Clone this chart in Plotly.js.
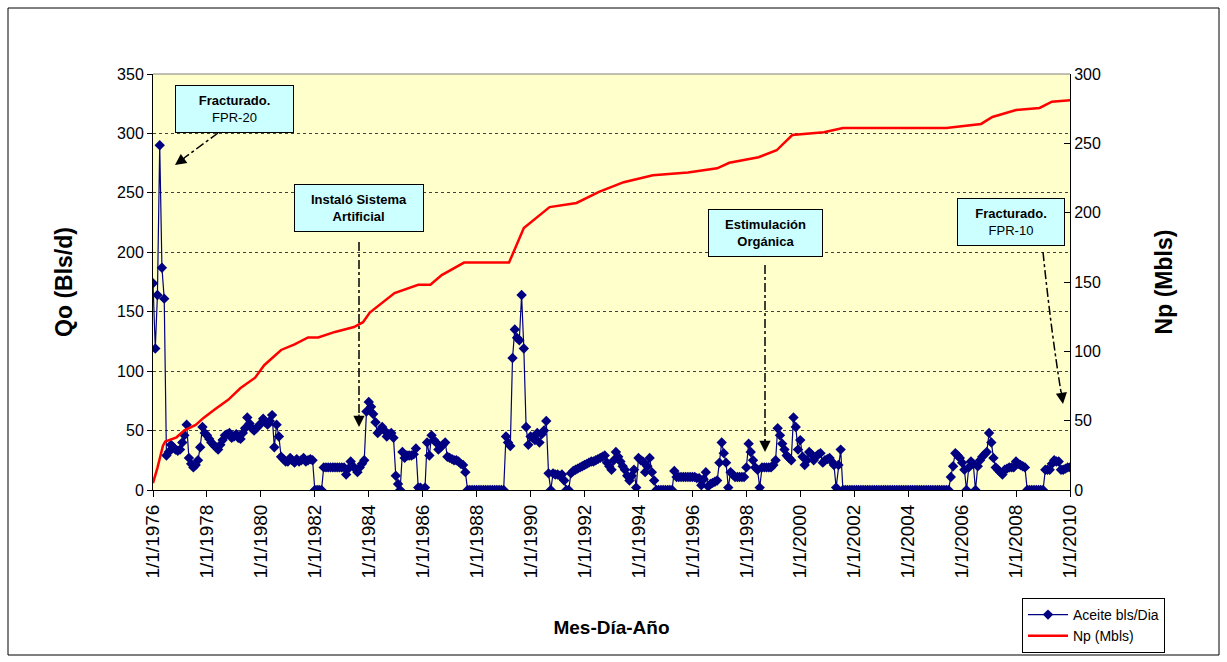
<!DOCTYPE html>
<html>
<head>
<meta charset="utf-8">
<script src="https://cdn.plot.ly/plotly-3.0.1.min.js"></script>
<style>html,body{margin:0;padding:0;background:#fff;}#chart{width:1227px;height:662px;}</style>
</head>
<body>
<div id="chart"></div>
<script>
// ---- Data ----
const oilStartYear = 1976;               // monthly series starts Jan 1976
const oilRate = [                         // Aceite bls/Dia, monthly
  174,119,164,290,187,161,29,32,38,36,34,33,        // 1976
  34,40,46,55,27,22,19,21,25,36,53,48,              // 1977
  46,43,40,38,36,34,38,42,46,47,48,44,              // 1978
  45,47,44,43,48,52,61,56,52,50,52,54,              // 1979
  56,60,57,55,58,63,36,55,45,28,26,24,              // 1980
  24,27,25,23,26,24,25,27,24,25,26,25,              // 1981
  0,0,0,0,19,19,19,19,19,19,19,19,                  // 1982
  19,19,13,18,24,20,18,15,19,22,25,66,              // 1983
  74,70,64,57,48,50,53,50,45,47,48,44,              // 1984
  12,5,0,32,27,29,29,29,30,35,2,2,                  // 1985
  0,2,40,29,46,42,40,34,36,38,40,28,                // 1986
  27,26,25,25,24,22,21,15,0,0,0,0,                  // 1987
  0,0,0,0,0,0,0,0,0,0,0,0,                          // 1988
  0,45,40,37,111,135,128,126,164,119,53,38,         // 1989
  45,44,42,48,40,47,50,58,14,0,14,13,               // 1990
  13,12,13,8,0,0,14,16,17,18,19,20,                 // 1991
  21,22,23,24,24,25,26,27,28,29,23,20,              // 1992
  17,25,32,28,24,20,17,12,8,12,17,2,                // 1993
  27,25,24,15,20,27,15,8,0,0,0,0,                   // 1994
  0,0,0,0,16,11,11,11,11,11,11,11,                  // 1995
  11,11,10,10,4,9,15,3,5,6,7,8,                     // 1996
  23,40,31,23,2,15,13,11,11,11,11,11,               // 1997
  19,39,32,25,19,17,2,19,19,19,19,19,               // 1998
  21,25,52,46,39,34,29,27,25,61,53,34,              // 1999
  42,28,21,25,32,30,25,28,30,31,23,25,              // 2000
  26,27,24,21,2,21,34,0,0,0,0,0,                    // 2001
  0,0,0,0,0,0,0,0,0,0,0,0,                          // 2002
  0,0,0,0,0,0,0,0,0,0,0,0,                          // 2003
  0,0,0,0,0,0,0,0,0,0,0,0,                          // 2004
  0,0,0,0,0,0,0,11,20,31,29,27,                     // 2005
  23,17,0,19,24,22,0,20,25,28,30,32,                // 2006
  48,40,27,19,17,15,13,17,18,19,19,19,              // 2007
  24,22,21,20,19,0,0,0,0,0,0,0,                     // 2008
  0,17,17,17,22,25,24,24,17,17,18,19,               // 2009
  19                                                // 2010
];
const npDates = ['1976-01-01','1976-03-01','1976-05-15','1976-06-15','1976-11-15','1977-03-01','1977-08-01','1977-11-15',
  '1978-04-15','1978-10-15','1979-04-01','1979-10-15','1980-02-15','1980-07-15','1980-10-01','1981-04-01','1981-10-01',
  '1982-02-15','1982-10-01','1983-06-15','1983-10-15','1984-01-15','1984-05-15','1984-12-15','1985-11-01','1986-04-15',
  '1986-09-15','1987-07-15','1989-03-15','1989-10-01','1990-09-15','1991-09-15','1992-07-15','1993-06-15','1994-07-15',
  '1995-11-01','1996-12-01','1997-05-15','1998-06-15','1999-02-15','1999-09-15','2000-11-15','2001-08-01','2005-06-01',
  '2006-09-15','2007-02-15','2008-01-01','2008-11-15','2009-05-01','2010-01-01'];
const npValues = [5,16,32,35,38,43,47,52,
  58,65,73.5,81,90,97,101,105,110,
  110,114,117.5,121,128,133,142,148,148,
  155,164,164,189,204,207,215,222,227,
  229,232,236,240,245,256,258,261,261,
  264,269,274,275.5,280,281];
const seriesNames = ['Aceite bls/Dia', 'Np (Mbls)'];
const leftTitle = 'Qo (Bls/d)', rightTitle = 'Np (Mbls)', xTitle = 'Mes-Día-Año';
const notes = [
  {html: '<b>Fracturado.</b><br>FPR-20'},
  {html: '<b>Instaló Sistema<br>Artificial</b>'},
  {html: '<b>Estimulación<br>Orgánica</b>'},
  {html: '<b>Fracturado.</b><br>FPR-10'}
];

// monthly x categories
const oilDates = oilRate.map((_, i) => {
  const y = oilStartYear + Math.floor(i / 12), m = (i % 12) + 1;
  return y + '-' + String(m).padStart(2, '0') + '-01';
});

// ---- Geometry helpers (plot area in pixels) ----
const L = 153, R = 1070, T = 74, B = 490;
const px = x => (x - L) / (R - L);
const py = y => (B - y) / (B - T);

const FONT = 'Liberation Sans, Arial, sans-serif';

const traces = [
  {x: oilDates, y: oilRate, name: seriesNames[0], type: 'scatter', mode: 'lines+markers',
   line: {color: '#000080', width: 1.2}, marker: {symbol: 'diamond', size: 8, color: '#000080'}, yaxis: 'y'},
  {x: npDates, y: npValues, name: seriesNames[1], type: 'scatter', mode: 'lines',
   line: {color: '#FF0000', width: 2.5}, yaxis: 'y2'}
];

const boxes = [
  {cx: 234, cy: 109, w: 119, h: 48},
  {cx: 359, cy: 207.5, w: 130, h: 48},
  {cx: 765, cy: 233, w: 115, h: 48},
  {cx: 1011, cy: 222, w: 108, h: 48}
];
const annotations = boxes.map((b, i) => ({
  xref: 'paper', yref: 'paper', x: px(b.cx), y: py(b.cy), xanchor: 'center', yanchor: 'middle',
  text: notes[i].html, showarrow: false, bgcolor: '#CCFFFF', bordercolor: '#000', borderwidth: 1,
  borderpad: 0, width: b.w - 2, height: b.h - 2, align: 'center',
  font: {family: FONT, size: 13, color: '#000'}
}));
// arrow heads
const heads = [
  {x: 175, y: 165, ax: 11, ay: -8},
  {x: 359, y: 427, ax: 0, ay: -14},
  {x: 765, y: 452, ax: 0, ay: -14},
  {x: 1063, y: 404, ax: -2, ay: -14}
];
heads.forEach(h => annotations.push({
  xref: 'paper', yref: 'paper', x: px(h.x), y: py(h.y), ax: h.ax, ay: h.ay, text: '',
  showarrow: true, arrowhead: 2, arrowsize: 1.6, arrowwidth: 1.4, arrowcolor: '#000'
}));

const dd = {color: '#000', width: 1.5, dash: 'dashdot'};
const shapes = [
  {type: 'line', xref: 'paper', yref: 'paper', x0: px(218), y0: py(133), x1: px(184), y1: py(158), line: dd},
  {type: 'line', xref: 'paper', yref: 'paper', x0: px(359), y0: py(242), x1: px(359), y1: py(416), line: dd},
  {type: 'line', xref: 'paper', yref: 'paper', x0: px(765), y0: py(265), x1: px(765), y1: py(441), line: dd},
  {type: 'path', xref: 'paper', yref: 'paper',
   path: 'M ' + px(1043) + ',' + py(252) + ' Q ' + px(1051) + ',' + py(330) + ' ' + px(1061) + ',' + py(392), line: dd},
  // plot top border
  {type: 'line', xref: 'paper', yref: 'paper', x0: 0, x1: 1, y0: 1, y1: 1, line: {color: '#808080', width: 1}},
  // outer chart frame
  {type: 'rect', xref: 'paper', yref: 'paper', x0: px(8), x1: px(1219), y0: py(655), y1: py(8),
   line: {color: '#000', width: 1}, layer: 'below'}
];

const layout = {
  width: 1227, height: 662,
  margin: {l: L, r: 1227 - R, t: T, b: 662 - B, autoexpand: false},
  paper_bgcolor: '#FFFFFF', plot_bgcolor: '#FFFFCC',
  font: {family: FONT, color: '#000'},
  showlegend: true,
  legend: {x: px(1022), y: py(598), xanchor: 'left', yanchor: 'top', bgcolor: '#FFFFFF',
           bordercolor: '#000', borderwidth: 1, font: {family: FONT, size: 14}, tracegroupgap: 0,
           itemwidth: 40, entrywidth: 150, entrywidthmode: 'pixels'},
  xaxis: {
    type: 'date', range: ['1976-01-01', '2010-01-01'], tick0: '1976-01-01', dtick: 'M24',
    tickformat: '%-m/%-d/%Y', tickangle: -90, ticks: 'outside', ticklen: 6, tickcolor: '#000',
    tickfont: {family: FONT, size: 19}, showgrid: false, showline: true, linecolor: '#000', linewidth: 1,
    zeroline: false, automargin: false,
    title: {text: '<b>' + xTitle + '</b>', font: {family: FONT, size: 19}, standoff: 43}
  },
  yaxis: {
    range: [0, 350], dtick: 50, ticks: 'outside', ticklen: 5, tickcolor: '#000',
    tickfont: {family: FONT, size: 16}, showline: true, linecolor: '#000', linewidth: 1,
    showgrid: true, gridcolor: '#404040', gridwidth: 1, griddash: '3px,3px', zeroline: false, automargin: false,
    title: {text: '<b>' + leftTitle + '</b>', font: {family: FONT, size: 23}, standoff: 38}
  },
  yaxis2: {
    overlaying: 'y', side: 'right', range: [0, 300], dtick: 50, ticks: 'inside', ticklen: 6, tickcolor: '#000',
    tickfont: {family: FONT, size: 16}, showline: true, linecolor: '#000', linewidth: 1,
    showgrid: false, zeroline: false, automargin: false,
    title: {text: '<b>' + rightTitle + '</b>', font: {family: FONT, size: 23}, standoff: 55}
  },
  annotations: annotations,
  shapes: shapes
};

Plotly.newPlot('chart', traces, layout, {displayModeBar: false, staticPlot: true});
</script>
</body>
</html>
